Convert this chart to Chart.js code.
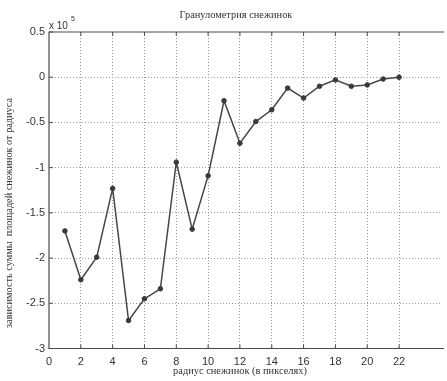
<!DOCTYPE html>
<html><head><meta charset="utf-8">
<script src="https://cdn.jsdelivr.net/npm/chart.js@4/dist/chart.umd.min.js"></script>
<style>html,body{margin:0;padding:0;background:#fff;overflow:hidden}canvas{display:block}</style>
</head><body><canvas id="c" width="447" height="381"></canvas>
<script>
const titleText = 'Гранулометрия снежинок';
const xLabelText = 'радиус снежинок (в пикселях)';
const yLabelText = 'зависимость суммы  площадей снежинок от радиуса';
const radius = [1,2,3,4,5,6,7,8,9,10,11,12,13,14,15,16,17,18,19,20,21,22];
const areaSum = [-170000,-224000,-199000,-123000,-269000,-245000,-234000,-94000,-168000,-109000,-26000,
                 -73000,-49000,-36000,-12000,-23000,-10000,-3000,-10000,-8500,-2000,0];
const xTicks = [0,2,4,6,8,10,12,14,16,18,20,22];
const yTicks = [50000,0,-50000,-100000,-150000,-200000,-250000,-300000];
const yExponent = 5;

function fitFont(ctx, text, family, target){
  ctx.font = '10px ' + family;
  const w = ctx.measureText(text).width;
  return (10*target/w).toFixed(2) + 'px ' + family;
}

const deco = {
  id:'deco',
  afterDraw(chart){
    const {ctx, chartArea:a, scales:{x,y}} = chart;
    ctx.save();
    ctx.strokeStyle = '#4a4a4a'; ctx.lineWidth = 1.2; ctx.setLineDash([]);
    ctx.beginPath();
    ctx.moveTo(a.right+2, a.top); ctx.lineTo(a.left, a.top); ctx.lineTo(a.left, a.bottom); ctx.lineTo(a.right+2, a.bottom);
    ctx.stroke();
    ctx.lineWidth = 1;
    ctx.beginPath();
    xTicks.forEach(v=>{ if(v===0) return; const px = x.getPixelForValue(v);
      ctx.moveTo(px, a.top); ctx.lineTo(px, a.top+4); ctx.moveTo(px, a.bottom); ctx.lineTo(px, a.bottom-4); });
    yTicks.forEach(v=>{ const py = y.getPixelForValue(v);
      ctx.moveTo(a.left, py); ctx.lineTo(a.left+4, py); });
    ctx.stroke();
    ctx.fillStyle = '#333';
    ctx.textBaseline = 'middle';
    ctx.textAlign = 'center';
    ctx.font = fitFont(ctx, titleText, '"Liberation Serif"', 113);
    ctx.fillText(titleText, 236, 15);
    ctx.font = fitFont(ctx, xLabelText, '"Liberation Serif"', 134);
    ctx.fillText(xLabelText, 240, 371);
    ctx.save();
    ctx.translate(9, 213); ctx.rotate(-Math.PI/2);
    ctx.font = fitFont(ctx, yLabelText, '"Liberation Serif"', 230);
    ctx.fillText(yLabelText, 0, 0);
    ctx.restore();
    ctx.textAlign = 'left';
    ctx.font = '10px "Liberation Sans"';
    ctx.fillText('x 10', 49, 26);
    ctx.font = '7px "Liberation Sans"';
    ctx.fillText(String(yExponent), 71, 19);
    ctx.restore();
  }
};

new Chart(document.getElementById('c'), {
  type:'line',
  data:{ datasets:[{
    data: radius.map((r,i)=>({x:r, y:areaSum[i]})),
    borderColor:'#474747', borderWidth:1.5, tension:0,
    pointRadius:2.3, pointBackgroundColor:'#3a3a3a', pointBorderColor:'#3a3a3a', pointBorderWidth:1,
    fill:false
  }]},
  options:{
    responsive:false, animation:false, devicePixelRatio:1,
    layout:{padding:{left:0, top:32, right:0, bottom:0}},
    plugins:{legend:{display:false}, tooltip:{enabled:false}, title:{display:false}},
    scales:{
      x:{ type:'linear', min:0, max:24.7,
        afterBuildTicks:s=>{ s.ticks = xTicks.map(v=>({value:v})); },
        afterFit:s=>{ s.height = 32.5; },
        grid:{ drawTicks:false, color:c=> (c.tick && c.tick.value===0) ? 'rgba(0,0,0,0)' : '#9a9a9a', lineWidth:1 },
        border:{ display:false, dash:[1,2] },
        ticks:{ autoSkip:false, maxRotation:0, padding:7, color:'#333', font:{family:'"Liberation Sans"', size:11},
          callback:v=>String(v) }
      },
      y:{ type:'linear', min:-300000, max:50000,
        afterBuildTicks:s=>{ s.ticks = yTicks.map(v=>({value:v})); },
        afterFit:s=>{ s.width = 49; },
        grid:{ drawTicks:false, color:c=> (c.tick && (c.tick.value===50000 || c.tick.value===-300000)) ? 'rgba(0,0,0,0)' : '#9a9a9a', lineWidth:1 },
        border:{ display:false, dash:[1,2] },
        ticks:{ autoSkip:false, padding:4, color:'#333', font:{family:'"Liberation Sans"', size:11},
          callback:v=> String(+(v/Math.pow(10,yExponent)).toFixed(1)) }
      }
    }
  },
  plugins:[deco]
});
</script>
</body></html>
